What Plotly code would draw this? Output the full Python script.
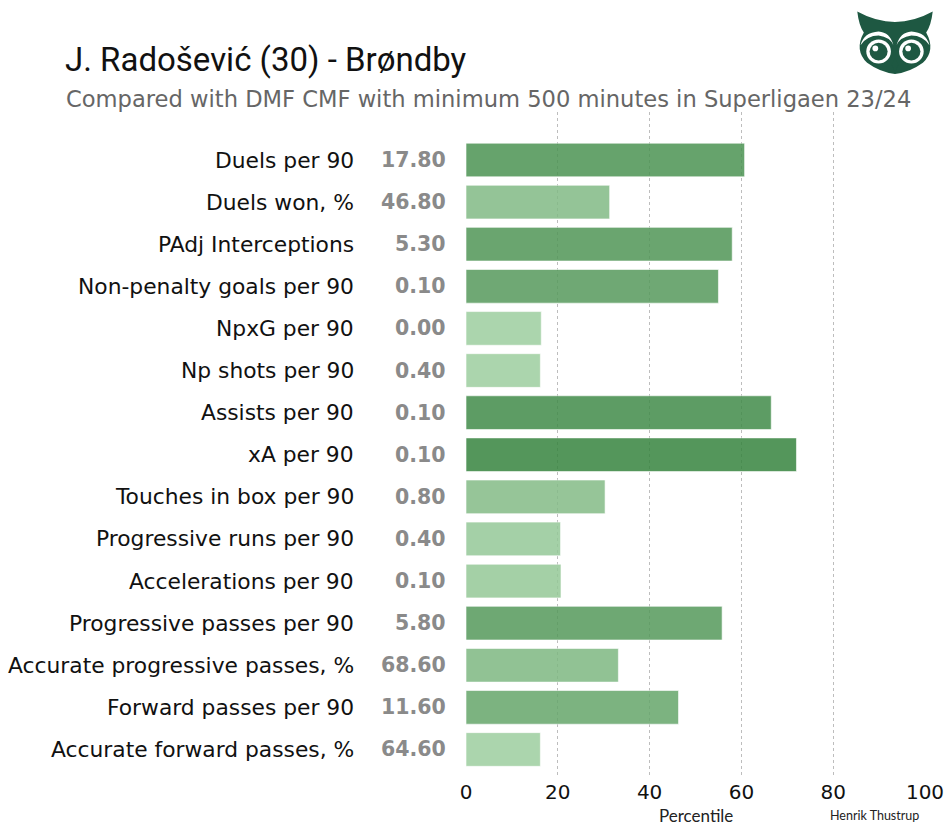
import plotly.graph_objects as go
import base64

categories = [
    "Duels per 90", "Duels won, %", "PAdj Interceptions", "Non-penalty goals per 90",
    "NpxG per 90", "Np shots per 90", "Assists per 90", "xA per 90",
    "Touches in box per 90", "Progressive runs per 90", "Accelerations per 90",
    "Progressive passes per 90", "Accurate progressive passes, %",
    "Forward passes per 90", "Accurate forward passes, %",
]
percentiles = [60.7, 31.3, 58.0, 55.0, 16.4, 16.2, 66.5, 72.0, 30.3, 20.6, 20.7, 55.8, 33.2, 46.3, 16.2]
raw_values = ["17.80", "46.80", "5.30", "0.10", "0.00", "0.40", "0.10", "0.10",
              "0.80", "0.40", "0.10", "5.80", "68.60", "11.60", "64.60"]
x_ticks = [0, 20, 40, 60, 80, 100]

title = "J. Radošević (30) - Brøndby"
subtitle = "Compared with DMF CMF with minimum 500 minutes in Superligaen 23/24"

W, H = 950, 832
L, R, T, B = 466, 25, 112, 56
pw, ph = W - L - R, H - T - B

def px_x(p):
    return (p - L) / pw

def px_y(p):
    return (H - B - p) / ph

fig = go.Figure()
fig.add_trace(go.Bar(
    y=categories, x=percentiles, orientation="h", width=0.8,
    marker=dict(
        color=percentiles, cmin=0, cmax=100,
        colorscale=[[0, "rgb(187,228,187)"], [1, "rgb(4,94,15)"]],
        opacity=0.85,
        line=dict(color="rgba(255,255,255,0.6)", width=1),
    ),
    hoverinfo="skip", showlegend=False,
))

annotations = []
for c, v in zip(categories, raw_values):
    annotations.append(dict(x=px_x(356), xref="paper", y=c, yref="y", text=c,
                            xanchor="right", yanchor="middle", showarrow=False,
                            font=dict(family="DejaVu Sans", size=21.8, color="#111")))
    annotations.append(dict(x=px_x(448), xref="paper", y=c, yref="y", text=v,
                            xanchor="right", yanchor="middle", showarrow=False,
                            font=dict(family="DejaVu Sans", size=20.5, color="#8a8a8a", weight="bold")))

annotations += [
    dict(x=px_x(63), y=px_y(60), xref="paper", yref="paper", text=title,
         xanchor="left", yanchor="middle", showarrow=False,
         font=dict(family="Roboto", size=33, color="#111")),
    dict(x=px_x(64), y=px_y(99), xref="paper", yref="paper", text=subtitle,
         xanchor="left", yanchor="middle", showarrow=False,
         font=dict(family="DejaVu Sans", size=22.6, color="#666")),
    dict(x=0.5, y=px_y(815), xref="paper", yref="paper", text="Percentile",
         xanchor="center", yanchor="middle", showarrow=False,
         font=dict(family="Lato", size=17, color="#222")),
    dict(x=px_x(874), y=px_y(815), xref="paper", yref="paper", text="Henrik Thustrup",
         xanchor="center", yanchor="middle", showarrow=False,
         font=dict(family="Lato", size=12.5, color="#222")),
]

owl_svg = """<svg xmlns='http://www.w3.org/2000/svg' viewBox='0 0 100 80'>
<path d='M4 2 Q50 28 96 2 Q94 20 88 28 Q100 50 84 66 Q68 78 50 80 Q32 78 16 66 Q0 50 12 28 Q6 20 4 2 Z' fill='#1e5842'/>
<path d='M8 44 Q12 28 30 27 Q44 28 48 44 Q44 34 30 32 Q16 32 8 44 Z' fill='white'/>
<path d='M92 44 Q88 28 70 27 Q56 28 52 44 Q56 34 70 32 Q84 32 92 44 Z' fill='white'/>
<circle cx='30' cy='52' r='15' fill='white'/>
<circle cx='70' cy='52' r='15' fill='white'/>
<circle cx='30' cy='52' r='11' fill='#1e5842'/>
<circle cx='70' cy='52' r='11' fill='#1e5842'/>
<circle cx='26' cy='48' r='3.5' fill='white'/>
<circle cx='66' cy='48' r='3.5' fill='white'/>
<path d='M50 60 L46 68 L50 78 L54 68 Z' fill='#1e5842'/>
</svg>"""
src = "data:image/svg+xml;base64," + base64.b64encode(owl_svg.encode()).decode()

fig.update_layout(
    width=W, height=H,
    margin=dict(l=L, r=R, t=T, b=B, autoexpand=False),
    paper_bgcolor="white", plot_bgcolor="white",
    annotations=annotations,
    images=[dict(source=src, xref="paper", yref="paper", x=px_x(854), y=px_y(10),
                 sizex=82 / pw, sizey=64 / ph, xanchor="left", yanchor="top",
                 sizing="stretch", layer="above")],
    xaxis=dict(range=[0, 100], tickvals=x_ticks, showgrid=True, gridcolor="#bdbdbd",
               griddash="dot", gridwidth=1, zeroline=False, showline=False, ticks="",
               tickfont=dict(family="DejaVu Sans", size=20, color="#111"),
               ticklabelstandoff=2, automargin=False, fixedrange=True),
    yaxis=dict(categoryorder="array", categoryarray=categories,
               range=[len(categories) - 1 + 0.63, -1.14], showticklabels=False,
               showgrid=False, zeroline=False, ticks="", automargin=False, fixedrange=True),
    bargap=0.2,
)

fig.write_html("out.html")
